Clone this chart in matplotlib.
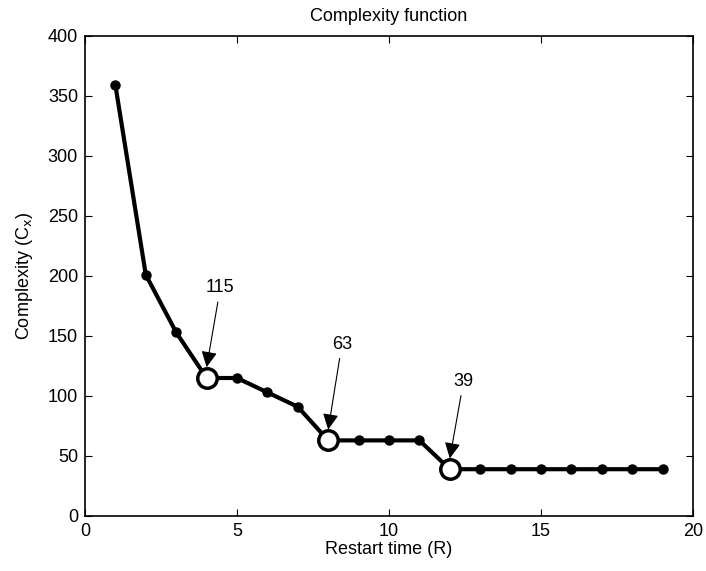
import matplotlib
matplotlib.use("Agg")
import matplotlib.pyplot as plt

plt.rcParams['font.family'] = ['Liberation Sans', 'DejaVu Sans']

restart = list(range(1, 20))
complexity = [359, 201, 153, 115, 115, 103, 91, 63, 63, 63, 63, 39, 39, 39, 39, 39, 39, 39, 39]
key_x = [4, 8, 12]
key_y = [115, 63, 39]
key_labels = ["115", "63", "39"]
label_pos = [(4.45, 190), (8.45, 143), (12.45, 112)]

fig = plt.figure(figsize=(7.06, 5.71), dpi=100)
ax = fig.add_axes([85/706, 1-516/571, (693-85)/706, (516-36)/571])

ax.plot(restart, complexity, color='black', lw=3, marker='o', ms=6.5, zorder=2)
ax.plot(key_x, key_y, ls='none', marker='o', ms=14, mfc='white', mec='black', mew=2.5, zorder=3)

for (kx, ky), lab, (tx, ty) in zip(zip(key_x, key_y), key_labels, label_pos):
    ax.annotate(lab, xy=(kx, ky + 9), xytext=(tx, ty), ha='center', va='center', fontsize=13,
                arrowprops=dict(arrowstyle='-|>,head_length=0.6,head_width=0.3', color='black', lw=0.8,
                                mutation_scale=16, shrinkA=2, shrinkB=0), zorder=4)

ax.set_xlim(0, 20)
ax.set_ylim(0, 400)
ax.set_xticks([0, 5, 10, 15, 20])
ax.set_yticks(range(0, 401, 50))
ax.tick_params(direction='in', length=5, width=0.8, labelsize=13, top=True, right=True, pad=5)
for s in ax.spines.values():
    s.set_linewidth(1.2)
ax.set_xlabel('Restart time (R)', fontsize=13, labelpad=1)
ax.set_ylabel('Complexity (C$_\\mathrm{x}$)', fontsize=13, labelpad=9)
ax.set_title('Complexity function', fontsize=13, pad=11)

fig.savefig('out.png', dpi=100)
